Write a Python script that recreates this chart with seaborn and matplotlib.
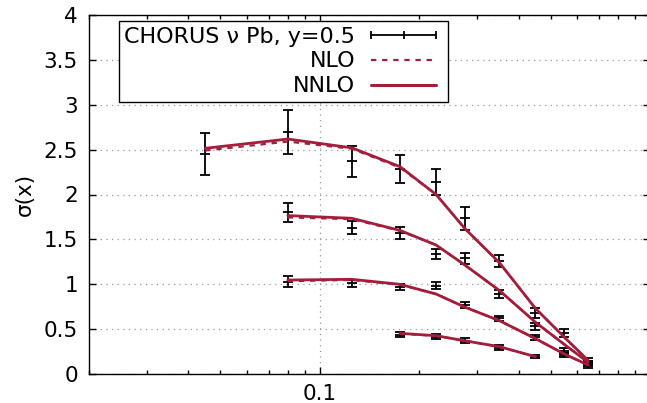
import matplotlib
matplotlib.use("Agg")
import numpy as np
import pandas as pd
import matplotlib.pyplot as plt
import seaborn as sns
from matplotlib.lines import Line2D
from matplotlib.ticker import FixedLocator, NullFormatter, FuncFormatter

# Bjorken-x bins of the CHORUS measurement
x_bins = [0.045, 0.080, 0.125, 0.175, 0.225, 0.275, 0.35, 0.45, 0.55, 0.65]

# Measured cross sections, four energy bins (first x bin used by each)
data_1 = [2.45, 2.70, 2.37, 2.28, 2.14, 1.735, 1.256, 0.68, 0.46, 0.15]
err_1 = [0.23, 0.245, 0.17, 0.155, 0.14, 0.125, 0.065, 0.06, 0.045, 0.03]
data_2 = [1.80, 1.63, 1.57, 1.337, 1.29, 0.89, 0.53, 0.26, 0.12]
err_2 = [0.11, 0.07, 0.065, 0.055, 0.06, 0.045, 0.04, 0.03, 0.025]
data_3 = [1.03, 1.01, 0.973, 0.984, 0.769, 0.62, 0.41, 0.21, 0.09]
err_3 = [0.06, 0.04, 0.035, 0.04, 0.03, 0.03, 0.03, 0.02, 0.02]
data_4 = [0.44, 0.416, 0.371, 0.293, 0.193]
err_4 = [0.03, 0.03, 0.03, 0.025, 0.02]
start_bin = [0, 1, 1, 3]

# Theory predictions
nnlo_1 = [2.515, 2.618, 2.52, 2.31, 2.00, 1.62, 1.24, 0.73, 0.41, 0.15]
nlo_1 = [2.49, 2.59, 2.51, 2.30, 2.00, 1.62, 1.24, 0.73, 0.41, 0.15]
nnlo_2 = [1.765, 1.735, 1.60, 1.437, 1.214, 0.93, 0.576, 0.33, 0.13]
nlo_2 = [1.745, 1.725, 1.595, 1.437, 1.214, 0.93, 0.576, 0.33, 0.13]
nnlo_3 = [1.047, 1.055, 0.999, 0.891, 0.745, 0.594, 0.394, 0.223, 0.10]
nlo_3 = [1.035, 1.048, 0.995, 0.891, 0.745, 0.594, 0.394, 0.223, 0.10]
nnlo_4 = [0.453, 0.427, 0.37, 0.304, 0.193]
nlo_4 = [0.450, 0.425, 0.37, 0.304, 0.193]

legend_labels = ["CHORUS \u03bd Pb, y=0.5", "NLO", "NNLO"]
y_ticks = [0, 0.5, 1, 1.5, 2, 2.5, 3, 3.5, 4]

sns.set_theme(style="ticks")
plt.rcParams["font.family"] = ["DejaVu Sans"]
plt.rcParams["font.size"] = 15.5
plt.rcParams["text.color"] = "black"
plt.rcParams["axes.labelcolor"] = "black"

RED = "#a41e3c"
NLO_DASH = (0, (2.4, 2.6))

datasets = [data_1, data_2, data_3, data_4]
errors = [err_1, err_2, err_3, err_4]
nnlos = [nnlo_1, nnlo_2, nnlo_3, nnlo_4]
nlos = [nlo_1, nlo_2, nlo_3, nlo_4]

rows = []
for k, (s, d, e, nl, nn) in enumerate(zip(start_bin, datasets, errors, nlos, nnlos)):
    for i in range(len(d)):
        rows.append({"bin": k, "x": x_bins[s + i], "sigma": d[i], "err": e[i],
                     "NLO": nl[i], "NNLO": nn[i]})
df = pd.DataFrame(rows)

fig = plt.figure(figsize=(6.47, 4.03), dpi=100)
ax = fig.add_axes([89 / 647, 1 - 374 / 403, 561 / 647, 359 / 403])

for k, grp in df.groupby("bin"):
    ax.errorbar(grp["x"], grp["sigma"], yerr=grp["err"], fmt="_", color="black",
                ecolor="black", markersize=6.5, mew=1.3, elinewidth=1.3,
                capsize=3.3, capthick=1.3, zorder=3)
    sns.lineplot(data=grp, x="x", y="NLO", ax=ax, color=RED, lw=1.6,
                 linestyle=NLO_DASH, zorder=4, legend=False)
    sns.lineplot(data=grp, x="x", y="NNLO", ax=ax, color=RED, lw=2.0,
                 zorder=5, legend=False)

ax.set_xscale("log")
ax.set_xlim(0.02, 1.0)
ax.set_ylim(0, 4)
ax.xaxis.set_major_locator(FixedLocator([0.1]))
ax.xaxis.set_major_formatter(FuncFormatter(lambda v, p: f"{v:g}"))
ax.xaxis.set_minor_locator(FixedLocator([0.02, 0.03, 0.04, 0.05, 0.06, 0.07, 0.08, 0.09,
                                         0.2, 0.3, 0.4, 0.5, 0.6, 0.7, 0.8, 0.9]))
ax.xaxis.set_minor_formatter(NullFormatter())
ax.yaxis.set_major_locator(FixedLocator(y_ticks))
ax.yaxis.set_major_formatter(FuncFormatter(lambda v, p: f"{v:g}"))
ax.yaxis.set_minor_locator(FixedLocator([]))

ax.tick_params(which="both", direction="in", top=True, right=True, color="black",
               width=1.0, labelsize=15.5, labelcolor="black")
ax.tick_params(which="major", length=5)
ax.tick_params(which="minor", length=3)
ax.tick_params(axis="y", pad=8)
ax.tick_params(axis="x", pad=7)

ax.grid(True, which="major", color="#999999", linestyle=(0, (1, 3.5)), linewidth=0.9)
for sp in ax.spines.values():
    sp.set_linewidth(1.0)
    sp.set_color("black")

ax.set_xlabel("")
ax.set_ylabel("\u03c3(x)", fontsize=15.5, labelpad=6)

handles = [
    Line2D([], [], color="black", lw=1.3, marker="|", markersize=6, mew=1.3),
    Line2D([], [], color=RED, lw=1.6, linestyle=NLO_DASH),
    Line2D([], [], color=RED, lw=2.2),
]
leg = ax.legend(handles, legend_labels, loc="upper right",
                bbox_to_anchor=((448 - 89) / 561, (374 - 21) / 359),
                borderaxespad=0, markerfirst=False, numpoints=3, fontsize=16,
                handlelength=3.5, handletextpad=0.43, borderpad=0.25,
                labelspacing=0.22, fancybox=False, framealpha=1, edgecolor="black")
leg.get_frame().set_linewidth(1.0)
for t in leg.get_texts():
    t.set_color("black")
leg.set_zorder(10)

fig.savefig("out.png", dpi=100)
